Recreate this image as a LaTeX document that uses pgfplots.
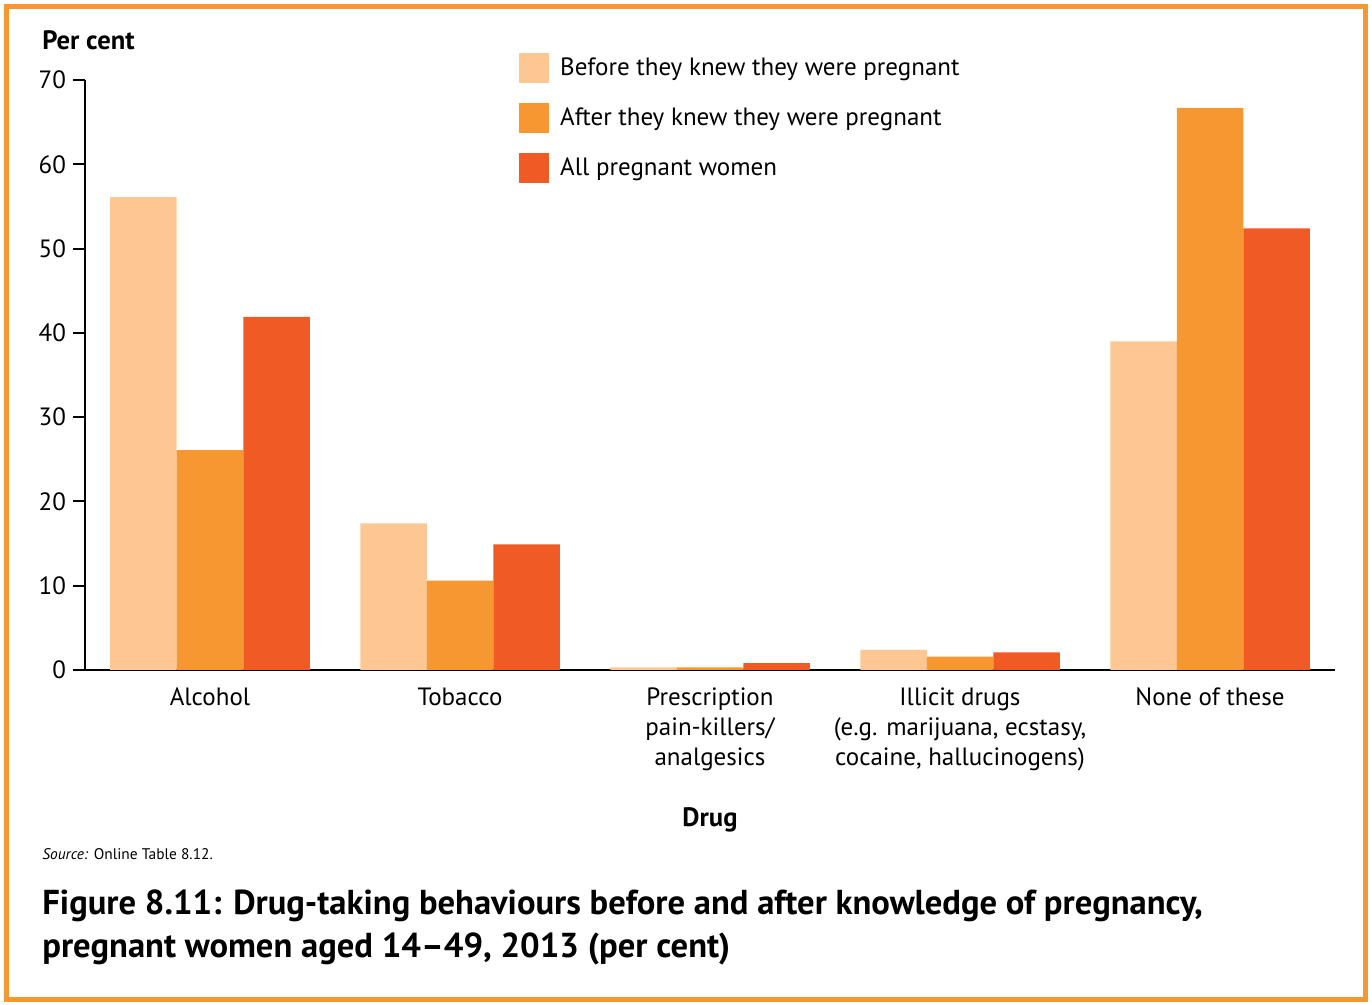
\documentclass[border=0pt]{standalone}
\usepackage{fontspec}
\setmainfont{PT Sans}
\usepackage{pgfplots}
\pgfplotsset{compat=1.18}
\definecolor{cBefore}{HTML}{FDC793}
\definecolor{cAfter}{HTML}{F79731}
\definecolor{cAll}{HTML}{F05A24}
\definecolor{cFrame}{HTML}{F7972F}
\begin{document}
\begin{tikzpicture}
\path[use as bounding box] (0pt,0pt) rectangle (686pt,502.5pt);
\draw[cFrame, line width=2.5pt] (3pt,2.75pt) rectangle (682.75pt,499.25pt);
\begin{axis}[
  at={(42.5pt,167.5pt)}, anchor=south west,
  scale only axis, width=625pt, height=295pt,
  xmin=-0.5, xmax=4.5, ymin=0, ymax=70,
  axis lines*=left,
  axis line style={line width=1pt, black},
  font=\fontsize{12.5}{15}\selectfont,
  /pgf/number format/assume math mode=true,
  xtick={0,1,2,3,4},
  xticklabels={Alcohol,Tobacco,{Prescription\\pain-killers/\\analgesics},{Illicit drugs\\(e.g. marijuana, ecstasy,\\cocaine, hallucinogens)},None of these},
  xticklabel style={align=center, font=\fontsize{12.5}{15}\selectfont, yshift=0.5pt},
  xtick style={draw=none},
  ytick={0,10,...,70},
  tick align=outside, major tick length=6pt,
  ytick style={line width=1pt, black},
  yticklabel style={font=\fontsize{12.5}{15}\selectfont},
  ybar=0pt, bar width=33.25pt,
  legend style={at={(0.347,1.047)}, anchor=north west, draw=none, fill=none,
    inner sep=0pt, row sep=10pt, column sep=5.5pt,
    nodes={inner sep=0pt, anchor=west}, font=\fontsize{12.5}{15}\selectfont},
  legend image code/.code={\fill[#1] (0pt,-7.5pt) rectangle (15pt,7.5pt);},
]
\addplot[fill=cBefore, draw=none] coordinates {(0,56.1) (1,17.4) (2,0.3) (3,2.4) (4,39.0)};
\addplot[fill=cAfter, draw=none] coordinates {(0,26.1) (1,10.6) (2,0.3) (3,1.6) (4,66.7)};
\addplot[fill=cAll, draw=none] coordinates {(0,41.9) (1,14.9) (2,0.8) (3,2.1) (4,52.4)};
\legend{Before they knew they were pregnant, After they knew they were pregnant, All pregnant women}
\end{axis}
\node[anchor=base west, font=\bfseries\fontsize{13.3}{15}\selectfont, inner sep=0pt] at (21pt,477.5pt) {Per cent};
\node[anchor=base, font=\bfseries\fontsize{13.3}{15}\selectfont, inner sep=0pt] at (355pt,89pt) {Drug};
\node[anchor=base west, font=\fontsize{7.7}{10}\selectfont, inner sep=0pt] at (21pt,72.5pt) {\textit{Source:} Online Table 8.12.};
\node[anchor=base west, font=\bfseries\fontsize{17.3}{20}\selectfont, inner sep=0pt] at (21pt,45pt) {Figure 8.11: Drug-taking behaviours before and after knowledge of pregnancy,};
\node[anchor=base west, font=\bfseries\fontsize{17.3}{20}\selectfont, inner sep=0pt] at (21pt,23.5pt) {pregnant women aged 14--49, 2013 (per cent)};
\end{tikzpicture}
\end{document}
